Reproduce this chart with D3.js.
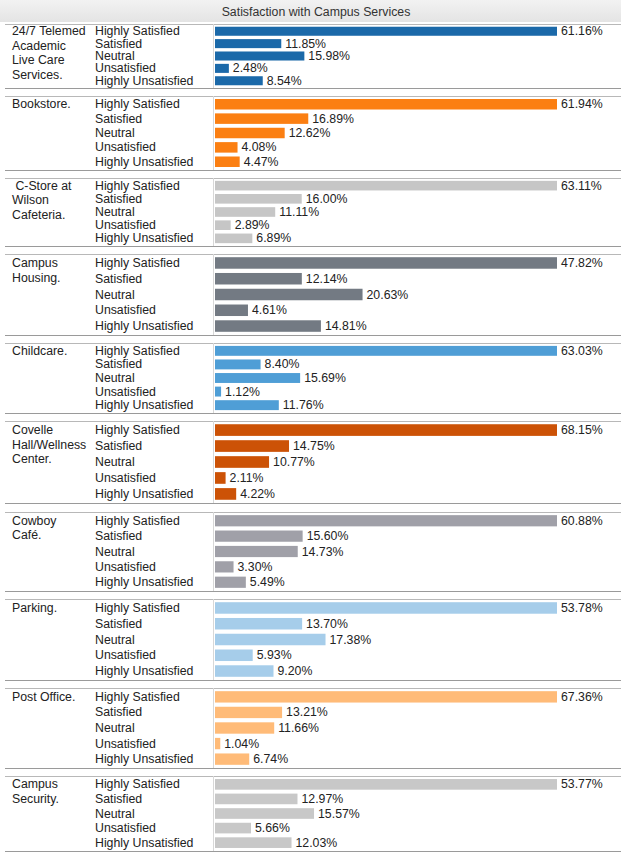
<!DOCTYPE html>
<html>
<head>
<meta charset="utf-8">
<script src="https://cdn.jsdelivr.net/npm/d3@7"></script>
<style>
  body { margin: 0; background: #fff; }
  svg { display: block; font-family: "Liberation Sans", Arial, sans-serif; }
</style>
</head>
<body>
<svg id="chart" width="621" height="853"></svg>
<script>
// data
const title = 'Satisfaction with Campus Services';
const levels = ['Highly Satisfied', 'Satisfied', 'Neutral', 'Unsatisfied', 'Highly Unsatisfied'];
const services = [
  ['24/7 Telemed', 'Academic', 'Live Care', 'Services.'],
  ['Bookstore.'],
  [' C-Store at', 'Wilson', 'Cafeteria.'],
  ['Campus', 'Housing.'],
  ['Childcare.'],
  ['Covelle', 'Hall/Wellness', 'Center.'],
  ['Cowboy', 'Café.'],
  ['Parking.'],
  ['Post Office.'],
  ['Campus', 'Security.']
];
const telemed = [61.16, 11.85, 15.98, 2.48, 8.54];
const bookstore = [61.94, 16.89, 12.62, 4.08, 4.47];
const cstore = [63.11, 16.00, 11.11, 2.89, 6.89];
const housing = [47.82, 12.14, 20.63, 4.61, 14.81];
const childcare = [63.03, 8.40, 15.69, 1.12, 11.76];
const covelle = [68.15, 14.75, 10.77, 2.11, 4.22];
const cowboy = [60.88, 15.60, 14.73, 3.30, 5.49];
const parking = [53.78, 13.70, 17.38, 5.93, 9.20];
const postOffice = [67.36, 13.21, 11.66, 1.04, 6.74];
const security = [53.77, 12.97, 15.57, 5.66, 12.03];
const seriesValues = [telemed, bookstore, cstore, housing, childcare, covelle, cowboy, parking, postOffice, security];

// layout / style
const colors = ['#1b69a9', '#fb7f12', '#c6c6c6', '#737a83', '#4f9ed6', '#cc5206', '#a0a0a8', '#a6cdea', '#ffbb78', '#c8c8c8'];
const panelTops = [24, 96, 178, 254, 343, 421, 512, 599, 688, 776];
const panelBottoms = [88, 170, 246, 335, 413, 503, 591, 680, 768, 851];
const fs = 12.3;

const svg = d3.select('#chart');
const W = 621;
const barX0 = 215, barX1 = 557;

// header
const grad = svg.append('defs').append('linearGradient')
  .attr('id', 'hdr').attr('x1', 0).attr('x2', 0).attr('y1', 0).attr('y2', 1);
grad.append('stop').attr('offset', '0%').attr('stop-color', '#f2f2f2');
grad.append('stop').attr('offset', '100%').attr('stop-color', '#e4e4e4');
svg.append('rect').attr('x', 0).attr('y', 0).attr('width', W).attr('height', 22).attr('fill', 'url(#hdr)');
svg.append('text')
  .attr('x', 316).attr('y', 16)
  .attr('text-anchor', 'middle')
  .attr('font-size', fs).attr('fill', '#333')
  .text(title);

seriesValues.forEach((vals, i) => {
  const top = panelTops[i], bottom = panelBottoms[i];
  const g = svg.append('g');

  const x = d3.scaleLinear().domain([0, d3.max(vals)]).range([barX0, barX1]);
  const y = d3.scaleBand().domain(levels).range([top + 1, bottom - 1]).paddingInner(0.27).paddingOuter(0.14);

  // panel frame
  g.append('line').attr('x1', 5).attr('x2', W).attr('y1', top + 0.5).attr('y2', top + 0.5).attr('stroke', '#b8b8b8');
  g.append('line').attr('x1', 5).attr('x2', W).attr('y1', bottom + 0.5).attr('y2', bottom + 0.5).attr('stroke', '#9a9a9a');
  g.append('line').attr('x1', 213.5).attr('x2', 213.5).attr('y1', top).attr('y2', bottom).attr('stroke', '#d8d8d8');

  // category label
  g.append('text')
    .attr('x', 12).attr('y', y(levels[0]) + y.bandwidth() / 2 + 4)
    .attr('font-size', fs).attr('fill', '#222')
    .selectAll('tspan')
    .data(services[i])
    .join('tspan')
    .attr('x', 12)
    .attr('dy', (d, k) => k === 0 ? 0 : 14.6)
    .attr('xml:space', 'preserve')
    .text(d => d);

  // level labels
  g.selectAll('.lvl')
    .data(levels)
    .join('text')
    .attr('class', 'lvl')
    .attr('x', 95)
    .attr('y', d => y(d) + y.bandwidth() / 2 + 4)
    .attr('font-size', fs).attr('fill', '#222')
    .text(d => d);

  // bars
  g.selectAll('rect')
    .data(vals)
    .join('rect')
    .attr('x', x(0))
    .attr('y', (d, k) => y(levels[k]))
    .attr('width', d => x(d) - x(0))
    .attr('height', y.bandwidth())
    .attr('fill', colors[i]);

  // value labels
  g.selectAll('.val')
    .data(vals)
    .join('text')
    .attr('class', 'val')
    .attr('x', d => x(d) + 4)
    .attr('y', (d, k) => y(levels[k]) + y.bandwidth() / 2 + 4)
    .attr('font-size', fs).attr('fill', '#222')
    .text(d => d3.format('.2f')(d) + '%');
});
</script>
</body>
</html>
